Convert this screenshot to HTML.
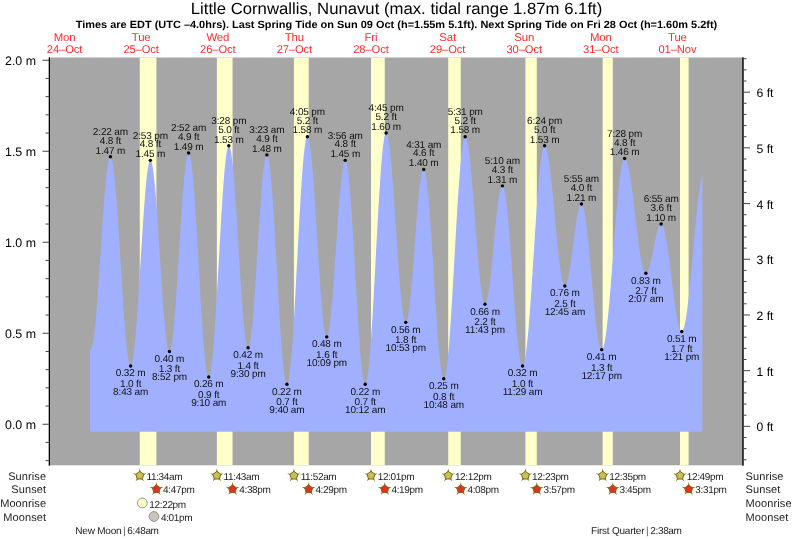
<!DOCTYPE html><html><head><meta charset="utf-8"><style>html,body{margin:0;padding:0;background:#fff;width:793px;height:539px;overflow:hidden}svg{display:block;will-change:transform}text{font-family:"Liberation Sans",sans-serif;text-rendering:geometricPrecision}</style></head><body>
<svg width="793" height="539" viewBox="0 0 793 539">
<text x="396.5" y="14.1" font-size="16.2" text-anchor="middle" textLength="411.5" lengthAdjust="spacingAndGlyphs" fill="#000">Little Cornwallis, Nunavut (max. tidal range 1.87m 6.1ft)</text>
<text x="396.5" y="28.3" font-size="10.5" font-weight="bold" text-anchor="middle" textLength="641.5" lengthAdjust="spacingAndGlyphs" fill="#000">Times are EDT (UTC –4.0hrs). Last Spring Tide on Sun 09 Oct (h=1.55m 5.1ft). Next Spring Tide on Fri 28 Oct (h=1.60m 5.2ft)</text>
<text x="64.54" y="41.3" font-size="11.4" letter-spacing="-0.15" text-anchor="middle" fill="#ff2a2a">Mon</text>
<text x="64.54" y="52.9" font-size="11.2" letter-spacing="-0.1" text-anchor="middle" fill="#ff2a2a">24–Oct</text>
<text x="141.15" y="41.3" font-size="11.4" letter-spacing="-0.15" text-anchor="middle" fill="#ff2a2a">Tue</text>
<text x="141.15" y="52.9" font-size="11.2" letter-spacing="-0.1" text-anchor="middle" fill="#ff2a2a">25–Oct</text>
<text x="217.76" y="41.3" font-size="11.4" letter-spacing="-0.15" text-anchor="middle" fill="#ff2a2a">Wed</text>
<text x="217.76" y="52.9" font-size="11.2" letter-spacing="-0.1" text-anchor="middle" fill="#ff2a2a">26–Oct</text>
<text x="294.37" y="41.3" font-size="11.4" letter-spacing="-0.15" text-anchor="middle" fill="#ff2a2a">Thu</text>
<text x="294.37" y="52.9" font-size="11.2" letter-spacing="-0.1" text-anchor="middle" fill="#ff2a2a">27–Oct</text>
<text x="370.98" y="41.3" font-size="11.4" letter-spacing="-0.15" text-anchor="middle" fill="#ff2a2a">Fri</text>
<text x="370.98" y="52.9" font-size="11.2" letter-spacing="-0.1" text-anchor="middle" fill="#ff2a2a">28–Oct</text>
<text x="447.58" y="41.3" font-size="11.4" letter-spacing="-0.15" text-anchor="middle" fill="#ff2a2a">Sat</text>
<text x="447.58" y="52.9" font-size="11.2" letter-spacing="-0.1" text-anchor="middle" fill="#ff2a2a">29–Oct</text>
<text x="524.19" y="41.3" font-size="11.4" letter-spacing="-0.15" text-anchor="middle" fill="#ff2a2a">Sun</text>
<text x="524.19" y="52.9" font-size="11.2" letter-spacing="-0.1" text-anchor="middle" fill="#ff2a2a">30–Oct</text>
<text x="600.80" y="41.3" font-size="11.4" letter-spacing="-0.15" text-anchor="middle" fill="#ff2a2a">Mon</text>
<text x="600.80" y="52.9" font-size="11.2" letter-spacing="-0.1" text-anchor="middle" fill="#ff2a2a">31–Oct</text>
<text x="677.41" y="41.3" font-size="11.4" letter-spacing="-0.15" text-anchor="middle" fill="#ff2a2a">Tue</text>
<text x="677.41" y="52.9" font-size="11.2" letter-spacing="-0.1" text-anchor="middle" fill="#ff2a2a">01–Nov</text>
<rect x="50" y="57.5" width="692.3" height="407.8" fill="#a6a6a6"/>
<rect x="139.77" y="57.5" width="16.65" height="407.8" fill="#ffffcc"/>
<rect x="216.86" y="57.5" width="15.69" height="407.8" fill="#ffffcc"/>
<rect x="293.94" y="57.5" width="14.74" height="407.8" fill="#ffffcc"/>
<rect x="371.03" y="57.5" width="13.73" height="407.8" fill="#ffffcc"/>
<rect x="448.22" y="57.5" width="12.56" height="407.8" fill="#ffffcc"/>
<rect x="525.42" y="57.5" width="11.38" height="407.8" fill="#ffffcc"/>
<rect x="602.66" y="57.5" width="10.11" height="407.8" fill="#ffffcc"/>
<rect x="680.01" y="57.5" width="8.62" height="407.8" fill="#ffffcc"/>
<polygon points="90.00,431.65 90.00,348.62 90.32,349.07 90.64,349.26 90.96,349.20 91.28,348.88 91.60,348.32 91.92,347.51 92.23,346.46 92.55,345.17 92.87,343.63 93.19,341.86 93.51,339.86 93.83,337.63 94.15,335.19 94.47,332.53 94.79,329.66 95.11,326.60 95.43,323.34 95.75,319.90 96.06,316.29 96.38,312.52 96.70,308.58 97.02,304.51 97.34,300.30 97.66,295.97 97.98,291.53 98.30,286.98 98.62,282.35 98.94,277.65 99.26,272.88 99.58,268.05 99.90,263.19 100.21,258.30 100.53,253.40 100.85,248.50 101.17,243.61 101.49,238.74 101.81,233.91 102.13,229.13 102.45,224.41 102.77,219.76 103.09,215.20 103.41,210.74 103.73,206.39 104.04,202.16 104.36,198.07 104.68,194.11 105.00,190.31 105.32,186.67 105.64,183.20 105.96,179.91 106.28,176.82 106.60,173.92 106.92,171.22 107.24,168.74 107.56,166.48 107.88,164.44 108.19,162.63 108.51,161.05 108.83,159.72 109.15,158.62 109.47,157.77 109.79,157.17 110.11,156.82 110.43,156.71 110.75,156.86 111.07,157.27 111.39,157.92 111.71,158.84 112.02,160.00 112.34,161.41 112.66,163.07 112.98,164.97 113.30,167.10 113.62,169.46 113.94,172.05 114.26,174.86 114.58,177.88 114.90,181.10 115.22,184.52 115.54,188.13 115.86,191.91 116.17,195.87 116.49,199.99 116.81,204.25 117.13,208.66 117.45,213.19 117.77,217.85 118.09,222.61 118.41,227.46 118.73,232.40 119.05,237.41 119.37,242.48 119.69,247.59 120.00,252.74 120.32,257.91 120.64,263.08 120.96,268.26 121.28,273.41 121.60,278.54 121.92,283.62 122.24,288.65 122.56,293.61 122.88,298.50 123.20,303.29 123.52,307.98 123.84,312.56 124.15,317.01 124.47,321.32 124.79,325.49 125.11,329.50 125.43,333.35 125.75,337.02 126.07,340.50 126.39,343.79 126.71,346.88 127.03,349.75 127.35,352.42 127.67,354.86 127.98,357.07 128.30,359.04 128.62,360.78 128.94,362.27 129.26,363.52 129.58,364.52 129.90,365.26 130.22,365.75 130.54,365.99 130.86,365.96 131.18,365.68 131.50,365.12 131.82,364.30 132.13,363.22 132.45,361.88 132.77,360.28 133.09,358.43 133.41,356.34 133.73,354.00 134.05,351.42 134.37,348.62 134.69,345.60 135.01,342.36 135.33,338.91 135.65,335.27 135.96,331.45 136.28,327.44 136.60,323.27 136.92,318.94 137.24,314.47 137.56,309.87 137.88,305.14 138.20,300.31 138.52,295.37 138.84,290.36 139.16,285.27 139.48,280.13 139.80,274.94 140.11,269.73 140.43,264.49 140.75,259.26 141.07,254.03 141.39,248.82 141.71,243.66 142.03,238.54 142.35,233.49 142.67,228.52 142.99,223.63 143.31,218.85 143.63,214.18 143.94,209.64 144.26,205.24 144.58,200.99 144.90,196.90 145.22,192.98 145.54,189.25 145.86,185.70 146.18,182.36 146.50,179.23 146.82,176.31 147.14,173.62 147.46,171.17 147.78,168.95 148.09,166.97 148.41,165.25 148.73,163.78 149.05,162.57 149.37,161.62 149.69,160.93 150.01,160.51 150.33,160.35 150.65,160.46 150.97,160.83 151.29,161.47 151.61,162.36 151.92,163.52 152.24,164.92 152.56,166.58 152.88,168.49 153.20,170.63 153.52,173.01 153.84,175.62 154.16,178.45 154.48,181.49 154.80,184.74 155.12,188.19 155.44,191.82 155.76,195.63 156.07,199.60 156.39,203.73 156.71,208.00 157.03,212.41 157.35,216.93 157.67,221.56 157.99,226.29 158.31,231.10 158.63,235.98 158.95,240.91 159.27,245.88 159.59,250.88 159.90,255.90 160.22,260.91 160.54,265.91 160.86,270.89 161.18,275.82 161.50,280.69 161.82,285.50 162.14,290.23 162.46,294.86 162.78,299.39 163.10,303.79 163.42,308.07 163.74,312.20 164.05,316.17 164.37,319.98 164.69,323.61 165.01,327.05 165.33,330.30 165.65,333.35 165.97,336.18 166.29,338.79 166.61,341.17 166.93,343.31 167.25,345.22 167.57,346.88 167.88,348.28 168.20,349.44 168.52,350.33 168.84,350.97 169.16,351.34 169.48,351.45 169.80,351.29 170.12,350.86 170.44,350.16 170.76,349.19 171.08,347.96 171.40,346.46 171.72,344.71 172.03,342.70 172.35,340.44 172.67,337.95 172.99,335.21 173.31,332.25 173.63,329.07 173.95,325.68 174.27,322.09 174.59,318.31 174.91,314.35 175.23,310.21 175.55,305.92 175.86,301.48 176.18,296.91 176.50,292.21 176.82,287.41 177.14,282.50 177.46,277.52 177.78,272.46 178.10,267.35 178.42,262.20 178.74,257.02 179.06,251.83 179.38,246.64 179.70,241.46 180.01,236.32 180.33,231.22 180.65,226.17 180.97,221.20 181.29,216.31 181.61,211.52 181.93,206.85 182.25,202.29 182.57,197.88 182.89,193.61 183.21,189.50 183.53,185.57 183.84,181.82 184.16,178.26 184.48,174.91 184.80,171.76 185.12,168.84 185.44,166.14 185.76,163.69 186.08,161.47 186.40,159.51 186.72,157.79 187.04,156.34 187.36,155.15 187.68,154.22 187.99,153.57 188.31,153.18 188.63,153.07 188.95,153.23 189.27,153.67 189.59,154.39 189.91,155.38 190.23,156.65 190.55,158.18 190.87,159.98 191.19,162.04 191.51,164.36 191.82,166.92 192.14,169.73 192.46,172.78 192.78,176.06 193.10,179.55 193.42,183.26 193.74,187.18 194.06,191.28 194.38,195.57 194.70,200.04 195.02,204.66 195.34,209.44 195.66,214.35 195.97,219.39 196.29,224.54 196.61,229.79 196.93,235.13 197.25,240.54 197.57,246.02 197.89,251.54 198.21,257.10 198.53,262.67 198.85,268.25 199.17,273.82 199.49,279.38 199.80,284.89 200.12,290.36 200.44,295.76 200.76,301.09 201.08,306.32 201.40,311.46 201.72,316.47 202.04,321.36 202.36,326.11 202.68,330.71 203.00,335.15 203.32,339.41 203.64,343.48 203.95,347.36 204.27,351.04 204.59,354.50 204.91,357.74 205.23,360.75 205.55,363.52 205.87,366.04 206.19,368.32 206.51,370.34 206.83,372.09 207.15,373.58 207.47,374.80 207.78,375.75 208.10,376.42 208.42,376.81 208.74,376.93 209.06,376.76 209.38,376.31 209.70,375.57 210.02,374.54 210.34,373.24 210.66,371.65 210.98,369.80 211.30,367.67 211.62,365.28 211.93,362.63 212.25,359.73 212.57,356.58 212.89,353.20 213.21,349.58 213.53,345.75 213.85,341.71 214.17,337.47 214.49,333.04 214.81,328.44 215.13,323.66 215.45,318.73 215.76,313.66 216.08,308.46 216.40,303.14 216.72,297.72 217.04,292.20 217.36,286.61 217.68,280.96 218.00,275.26 218.32,269.52 218.64,263.76 218.96,258.00 219.28,252.25 219.60,246.52 219.91,240.82 220.23,235.18 220.55,229.60 220.87,224.10 221.19,218.69 221.51,213.39 221.83,208.21 222.15,203.16 222.47,198.26 222.79,193.51 223.11,188.93 223.43,184.53 223.74,180.32 224.06,176.32 224.38,172.52 224.70,168.95 225.02,165.60 225.34,162.50 225.66,159.64 225.98,157.03 226.30,154.68 226.62,152.60 226.94,150.78 227.26,149.25 227.58,147.99 227.89,147.01 228.21,146.32 228.53,145.91 228.85,145.79 229.17,145.95 229.49,146.38 229.81,147.09 230.13,148.06 230.45,149.31 230.77,150.81 231.09,152.58 231.41,154.60 231.72,156.88 232.04,159.39 232.36,162.15 232.68,165.13 233.00,168.34 233.32,171.75 233.64,175.37 233.96,179.19 234.28,183.18 234.60,187.35 234.92,191.69 235.24,196.17 235.56,200.78 235.87,205.53 236.19,210.38 236.51,215.33 236.83,220.37 237.15,225.48 237.47,230.65 237.79,235.86 238.11,241.10 238.43,246.36 238.75,251.62 239.07,256.86 239.39,262.08 239.70,267.25 240.02,272.38 240.34,277.43 240.66,282.39 240.98,287.27 241.30,292.03 241.62,296.67 241.94,301.17 242.26,305.53 242.58,309.73 242.90,313.75 243.22,317.60 243.54,321.25 243.85,324.71 244.17,327.95 244.49,330.97 244.81,333.76 245.13,336.32 245.45,338.63 245.77,340.70 246.09,342.51 246.41,344.06 246.73,345.35 247.05,346.37 247.37,347.12 247.68,347.60 248.00,347.80 248.32,347.73 248.64,347.39 248.96,346.77 249.28,345.88 249.60,344.72 249.92,343.30 250.24,341.61 250.56,339.67 250.88,337.47 251.20,335.03 251.52,332.35 251.83,329.44 252.15,326.31 252.47,322.96 252.79,319.41 253.11,315.66 253.43,311.73 253.75,307.63 254.07,303.37 254.39,298.96 254.71,294.42 255.03,289.75 255.35,284.97 255.66,280.10 255.98,275.14 256.30,270.12 256.62,265.04 256.94,259.93 257.26,254.79 257.58,249.64 257.90,244.49 258.22,239.37 258.54,234.27 258.86,229.23 259.18,224.25 259.50,219.35 259.81,214.54 260.13,209.83 260.45,205.24 260.77,200.79 261.09,196.48 261.41,192.32 261.73,188.33 262.05,184.52 262.37,180.91 262.69,177.49 263.01,174.28 263.33,171.30 263.64,168.54 263.96,166.02 264.28,163.74 264.60,161.71 264.92,159.94 265.24,158.42 265.56,157.17 265.88,156.19 266.20,155.49 266.52,155.05 266.84,154.89 267.16,155.01 267.48,155.42 267.79,156.11 268.11,157.08 268.43,158.34 268.75,159.87 269.07,161.68 269.39,163.75 269.71,166.10 270.03,168.70 270.35,171.55 270.67,174.65 270.99,177.98 271.31,181.54 271.62,185.33 271.94,189.32 272.26,193.51 272.58,197.90 272.90,202.46 273.22,207.19 273.54,212.08 273.86,217.11 274.18,222.27 274.50,227.55 274.82,232.94 275.14,238.41 275.46,243.97 275.77,249.58 276.09,255.25 276.41,260.96 276.73,266.68 277.05,272.41 277.37,278.14 277.69,283.84 278.01,289.51 278.33,295.13 278.65,300.68 278.97,306.16 279.29,311.54 279.60,316.82 279.92,321.98 280.24,327.01 280.56,331.90 280.88,336.63 281.20,341.20 281.52,345.58 281.84,349.78 282.16,353.77 282.48,357.55 282.80,361.12 283.12,364.45 283.44,367.55 283.75,370.40 284.07,373.00 284.39,375.34 284.71,377.42 285.03,379.23 285.35,380.76 285.67,382.02 285.99,382.99 286.31,383.68 286.63,384.09 286.95,384.21 287.27,384.04 287.58,383.57 287.90,382.80 288.22,381.75 288.54,380.40 288.86,378.76 289.18,376.84 289.50,374.65 289.82,372.17 290.14,369.43 290.46,366.43 290.78,363.18 291.10,359.68 291.42,355.94 291.73,351.97 292.05,347.79 292.37,343.39 292.69,338.79 293.01,334.01 293.33,329.05 293.65,323.93 293.97,318.65 294.29,313.24 294.61,307.70 294.93,302.04 295.25,296.29 295.56,290.45 295.88,284.54 296.20,278.57 296.52,272.55 296.84,266.51 297.16,260.45 297.48,254.40 297.80,248.35 298.12,242.34 298.44,236.37 298.76,230.46 299.08,224.62 299.40,218.86 299.71,213.21 300.03,207.67 300.35,202.25 300.67,196.98 300.99,191.85 301.31,186.89 301.63,182.11 301.95,177.52 302.27,173.12 302.59,168.93 302.91,164.97 303.23,161.23 303.54,157.73 303.86,154.47 304.18,151.47 304.50,148.73 304.82,146.26 305.14,144.06 305.46,142.14 305.78,140.50 306.10,139.16 306.42,138.10 306.74,137.33 307.06,136.86 307.38,136.69 307.69,136.80 308.01,137.18 308.33,137.83 308.65,138.74 308.97,139.92 309.29,141.35 309.61,143.04 309.93,144.98 310.25,147.17 310.57,149.60 310.89,152.26 311.21,155.15 311.52,158.26 311.84,161.58 312.16,165.10 312.48,168.81 312.80,172.70 313.12,176.77 313.44,181.00 313.76,185.37 314.08,189.89 314.40,194.53 314.72,199.28 315.04,204.13 315.36,209.08 315.67,214.09 315.99,219.17 316.31,224.29 316.63,229.45 316.95,234.63 317.27,239.81 317.59,244.98 317.91,250.14 318.23,255.26 318.55,260.32 318.87,265.33 319.19,270.26 319.50,275.09 319.82,279.83 320.14,284.45 320.46,288.94 320.78,293.29 321.10,297.50 321.42,301.53 321.74,305.40 322.06,309.08 322.38,312.57 322.70,315.85 323.02,318.92 323.34,321.77 323.65,324.40 323.97,326.79 324.29,328.94 324.61,330.84 324.93,332.48 325.25,333.88 325.57,335.01 325.89,335.88 326.21,336.48 326.53,336.81 326.85,336.88 327.17,336.69 327.48,336.23 327.80,335.52 328.12,334.55 328.44,333.33 328.76,331.85 329.08,330.13 329.40,328.17 329.72,325.98 330.04,323.56 330.36,320.92 330.68,318.06 331.00,315.00 331.32,311.74 331.63,308.30 331.95,304.68 332.27,300.89 332.59,296.95 332.91,292.87 333.23,288.66 333.55,284.33 333.87,279.90 334.19,275.37 334.51,270.76 334.83,266.09 335.15,261.36 335.46,256.60 335.78,251.82 336.10,247.02 336.42,242.24 336.74,237.46 337.06,232.73 337.38,228.04 337.70,223.41 338.02,218.85 338.34,214.38 338.66,210.02 338.98,205.76 339.30,201.64 339.61,197.65 339.93,193.81 340.25,190.13 340.57,186.63 340.89,183.31 341.21,180.18 341.53,177.26 341.85,174.54 342.17,172.04 342.49,169.77 342.81,167.74 343.13,165.94 343.44,164.38 343.76,163.07 344.08,162.02 344.40,161.22 344.72,160.68 345.04,160.39 345.36,160.37 345.68,160.63 346.00,161.17 346.32,161.99 346.64,163.08 346.96,164.45 347.28,166.09 347.59,168.00 347.91,170.17 348.23,172.59 348.55,175.27 348.87,178.19 349.19,181.34 349.51,184.73 349.83,188.33 350.15,192.15 350.47,196.16 350.79,200.37 351.11,204.76 351.42,209.32 351.74,214.03 352.06,218.90 352.38,223.89 352.70,229.01 353.02,234.24 353.34,239.56 353.66,244.97 353.98,250.44 354.30,255.97 354.62,261.54 354.94,267.13 355.26,272.74 355.57,278.35 355.89,283.95 356.21,289.51 356.53,295.03 356.85,300.49 357.17,305.89 357.49,311.19 357.81,316.40 358.13,321.50 358.45,326.48 358.77,331.32 359.09,336.01 359.40,340.54 359.72,344.90 360.04,349.08 360.36,353.06 360.68,356.84 361.00,360.41 361.32,363.76 361.64,366.87 361.96,369.75 362.28,372.39 362.60,374.77 362.92,376.90 363.24,378.76 363.55,380.35 363.87,381.68 364.19,382.73 364.51,383.50 364.83,383.99 365.15,384.20 365.47,384.13 365.79,383.77 366.11,383.12 366.43,382.18 366.75,380.97 367.07,379.47 367.38,377.69 367.70,375.63 368.02,373.31 368.34,370.73 368.66,367.89 368.98,364.79 369.30,361.45 369.62,357.88 369.94,354.08 370.26,350.05 370.58,345.82 370.90,341.39 371.22,336.76 371.53,331.96 371.85,326.99 372.17,321.86 372.49,316.58 372.81,311.17 373.13,305.65 373.45,300.01 373.77,294.28 374.09,288.46 374.41,282.58 374.73,276.64 375.05,270.66 375.36,264.65 375.68,258.63 376.00,252.61 376.32,246.61 376.64,240.63 376.96,234.69 377.28,228.81 377.60,222.99 377.92,217.26 378.24,211.62 378.56,206.09 378.88,200.68 379.20,195.41 379.51,190.28 379.83,185.31 380.15,180.50 380.47,175.88 380.79,171.45 381.11,167.21 381.43,163.19 381.75,159.39 382.07,155.81 382.39,152.47 382.71,149.38 383.03,146.53 383.34,143.95 383.66,141.63 383.98,139.58 384.30,137.80 384.62,136.30 384.94,135.08 385.26,134.14 385.58,133.49 385.90,133.13 386.22,133.06 386.54,133.24 386.86,133.68 387.18,134.36 387.49,135.28 387.81,136.45 388.13,137.86 388.45,139.50 388.77,141.37 389.09,143.47 389.41,145.80 389.73,148.33 390.05,151.08 390.37,154.02 390.69,157.16 391.01,160.48 391.32,163.98 391.64,167.65 391.96,171.47 392.28,175.44 392.60,179.55 392.92,183.79 393.24,188.14 393.56,192.59 393.88,197.14 394.20,201.76 394.52,206.46 394.84,211.21 395.16,216.00 395.47,220.83 395.79,225.67 396.11,230.51 396.43,235.35 396.75,240.17 397.07,244.96 397.39,249.70 397.71,254.39 398.03,259.00 398.35,263.53 398.67,267.97 398.99,272.30 399.30,276.52 399.62,280.60 399.94,284.55 400.26,288.35 400.58,291.99 400.90,295.46 401.22,298.75 401.54,301.86 401.86,304.77 402.18,307.48 402.50,309.98 402.82,312.27 403.14,314.33 403.45,316.17 403.77,317.77 404.09,319.14 404.41,320.27 404.73,321.15 405.05,321.79 405.37,322.18 405.69,322.33 406.01,322.23 406.33,321.89 406.65,321.32 406.97,320.51 407.28,319.48 407.60,318.21 407.92,316.71 408.24,315.00 408.56,313.07 408.88,310.94 409.20,308.60 409.52,306.06 409.84,303.34 410.16,300.44 410.48,297.37 410.80,294.14 411.12,290.76 411.43,287.25 411.75,283.60 412.07,279.83 412.39,275.96 412.71,272.00 413.03,267.95 413.35,263.84 413.67,259.67 413.99,255.46 414.31,251.22 414.63,246.96 414.95,242.70 415.26,238.44 415.58,234.22 415.90,230.02 416.22,225.88 416.54,221.80 416.86,217.79 417.18,213.87 417.50,210.05 417.82,206.35 418.14,202.76 418.46,199.31 418.78,196.01 419.10,192.85 419.41,189.87 419.73,187.06 420.05,184.43 420.37,181.99 420.69,179.75 421.01,177.72 421.33,175.90 421.65,174.29 421.97,172.91 422.29,171.76 422.61,170.83 422.93,170.14 423.24,169.69 423.56,169.47 423.88,169.49 424.20,169.78 424.52,170.32 424.84,171.12 425.16,172.19 425.48,173.50 425.80,175.07 426.12,176.88 426.44,178.94 426.76,181.23 427.08,183.76 427.39,186.51 427.71,189.49 428.03,192.67 428.35,196.06 428.67,199.64 428.99,203.41 429.31,207.35 429.63,211.46 429.95,215.73 430.27,220.14 430.59,224.69 430.91,229.37 431.22,234.15 431.54,239.03 431.86,244.01 432.18,249.05 432.50,254.16 432.82,259.32 433.14,264.52 433.46,269.74 433.78,274.97 434.10,280.20 434.42,285.41 434.74,290.60 435.06,295.74 435.37,300.83 435.69,305.85 436.01,310.80 436.33,315.65 436.65,320.40 436.97,325.03 437.29,329.54 437.61,333.90 437.93,338.12 438.25,342.18 438.57,346.07 438.89,349.77 439.20,353.29 439.52,356.61 439.84,359.73 440.16,362.62 440.48,365.30 440.80,367.75 441.12,369.97 441.44,371.95 441.76,373.68 442.08,375.16 442.40,376.40 442.72,377.37 443.04,378.09 443.35,378.55 443.67,378.74 443.99,378.68 444.31,378.35 444.63,377.75 444.95,376.89 445.27,375.78 445.59,374.40 445.91,372.77 446.23,370.89 446.55,368.76 446.87,366.38 447.18,363.77 447.50,360.93 447.82,357.86 448.14,354.57 448.46,351.07 448.78,347.37 449.10,343.47 449.42,339.38 449.74,335.12 450.06,330.68 450.38,326.09 450.70,321.34 451.02,316.46 451.33,311.45 451.65,306.32 451.97,301.08 452.29,295.75 452.61,290.34 452.93,284.85 453.25,279.31 453.57,273.72 453.89,268.09 454.21,262.44 454.53,256.78 454.85,251.12 455.16,245.48 455.48,239.86 455.80,234.29 456.12,228.76 456.44,223.30 456.76,217.91 457.08,212.61 457.40,207.41 457.72,202.31 458.04,197.34 458.36,192.51 458.68,187.81 459.00,183.27 459.31,178.89 459.63,174.68 459.95,170.65 460.27,166.82 460.59,163.18 460.91,159.75 461.23,156.54 461.55,153.54 461.87,150.77 462.19,148.24 462.51,145.95 462.83,143.90 463.14,142.10 463.46,140.55 463.78,139.26 464.10,138.23 464.42,137.46 464.74,136.96 465.06,136.71 465.38,136.73 465.70,136.96 466.02,137.41 466.34,138.07 466.66,138.94 466.98,140.02 467.29,141.30 467.61,142.79 467.93,144.48 468.25,146.37 468.57,148.44 468.89,150.70 469.21,153.14 469.53,155.75 469.85,158.52 470.17,161.46 470.49,164.55 470.81,167.78 471.12,171.14 471.44,174.63 471.76,178.24 472.08,181.96 472.40,185.78 472.72,189.68 473.04,193.66 473.36,197.72 473.68,201.83 474.00,205.99 474.32,210.18 474.64,214.40 474.96,218.64 475.27,222.88 475.59,227.12 475.91,231.34 476.23,235.53 476.55,239.68 476.87,243.78 477.19,247.82 477.51,251.79 477.83,255.68 478.15,259.48 478.47,263.18 478.79,266.77 479.10,270.24 479.42,273.59 479.74,276.79 480.06,279.86 480.38,282.77 480.70,285.52 481.02,288.10 481.34,290.51 481.66,292.73 481.98,294.78 482.30,296.63 482.62,298.29 482.94,299.74 483.25,301.00 483.57,302.04 483.89,302.88 484.21,303.50 484.53,303.91 484.85,304.11 485.17,304.10 485.49,303.88 485.81,303.48 486.13,302.87 486.45,302.08 486.77,301.09 487.08,299.92 487.40,298.57 487.72,297.04 488.04,295.33 488.36,293.46 488.68,291.43 489.00,289.24 489.32,286.91 489.64,284.43 489.96,281.83 490.28,279.10 490.60,276.26 490.92,273.32 491.23,270.28 491.55,267.16 491.87,263.96 492.19,260.70 492.51,257.39 492.83,254.04 493.15,250.66 493.47,247.25 493.79,243.85 494.11,240.44 494.43,237.05 494.75,233.69 495.06,230.36 495.38,227.08 495.70,223.86 496.02,220.72 496.34,217.65 496.66,214.67 496.98,211.80 497.30,209.03 497.62,206.38 497.94,203.87 498.26,201.48 498.58,199.25 498.90,197.16 499.21,195.23 499.53,193.47 499.85,191.88 500.17,190.47 500.49,189.24 500.81,188.19 501.13,187.33 501.45,186.66 501.77,186.19 502.09,185.91 502.41,185.83 502.73,185.96 503.04,186.31 503.36,186.89 503.68,187.68 504.00,188.69 504.32,189.92 504.64,191.36 504.96,193.01 505.28,194.87 505.60,196.92 505.92,199.17 506.24,201.61 506.56,204.24 506.88,207.04 507.19,210.01 507.51,213.15 507.83,216.44 508.15,219.87 508.47,223.45 508.79,227.15 509.11,230.98 509.43,234.92 509.75,238.96 510.07,243.09 510.39,247.30 510.71,251.58 511.02,255.92 511.34,260.31 511.66,264.74 511.98,269.20 512.30,273.68 512.62,278.16 512.94,282.63 513.26,287.09 513.58,291.52 513.90,295.91 514.22,300.25 514.54,304.54 514.86,308.75 515.17,312.88 515.49,316.92 515.81,320.85 516.13,324.68 516.45,328.39 516.77,331.96 517.09,335.40 517.41,338.69 517.73,341.83 518.05,344.80 518.37,347.60 518.69,350.22 519.00,352.66 519.32,354.92 519.64,356.97 519.96,358.83 520.28,360.48 520.60,361.92 520.92,363.15 521.24,364.16 521.56,364.95 521.88,365.53 522.20,365.88 522.52,366.01 522.84,365.91 523.15,365.59 523.47,365.05 523.79,364.27 524.11,363.28 524.43,362.06 524.75,360.62 525.07,358.97 525.39,357.10 525.71,355.03 526.03,352.75 526.35,350.27 526.67,347.60 526.98,344.74 527.30,341.69 527.62,338.47 527.94,335.08 528.26,331.52 528.58,327.81 528.90,323.95 529.22,319.95 529.54,315.81 529.86,311.56 530.18,307.19 530.50,302.71 530.82,298.14 531.13,293.48 531.45,288.74 531.77,283.93 532.09,279.07 532.41,274.16 532.73,269.21 533.05,264.23 533.37,259.24 533.69,254.24 534.01,249.24 534.33,244.26 534.65,239.30 534.96,234.37 535.28,229.49 535.60,224.66 535.92,219.90 536.24,215.21 536.56,210.61 536.88,206.10 537.20,201.69 537.52,197.40 537.84,193.22 538.16,189.18 538.48,185.27 538.80,181.50 539.11,177.90 539.43,174.45 539.75,171.17 540.07,168.06 540.39,165.14 540.71,162.40 541.03,159.86 541.35,157.51 541.67,155.37 541.99,153.43 542.31,151.71 542.63,150.20 542.94,148.91 543.26,147.84 543.58,146.99 543.90,146.36 544.22,145.97 544.54,145.80 544.86,145.84 545.18,146.05 545.50,146.44 545.82,146.99 546.14,147.72 546.46,148.61 546.78,149.66 547.09,150.88 547.41,152.25 547.73,153.78 548.05,155.47 548.37,157.30 548.69,159.27 549.01,161.39 549.33,163.63 549.65,166.01 549.97,168.50 550.29,171.11 550.61,173.84 550.92,176.66 551.24,179.58 551.56,182.59 551.88,185.68 552.20,188.84 552.52,192.07 552.84,195.36 553.16,198.70 553.48,202.08 553.80,205.50 554.12,208.94 554.44,212.39 554.76,215.86 555.07,219.32 555.39,222.78 555.71,226.22 556.03,229.63 556.35,233.01 556.67,236.35 556.99,239.64 557.31,242.87 557.63,246.04 557.95,249.13 558.27,252.14 558.59,255.06 558.90,257.88 559.22,260.60 559.54,263.21 559.86,265.71 560.18,268.09 560.50,270.33 560.82,272.44 561.14,274.42 561.46,276.25 561.78,277.93 562.10,279.47 562.42,280.84 562.74,282.06 563.05,283.11 563.37,284.00 563.69,284.73 564.01,285.28 564.33,285.67 564.65,285.88 564.97,285.93 565.29,285.81 565.61,285.55 565.93,285.13 566.25,284.57 566.57,283.86 566.88,283.01 567.20,282.02 567.52,280.89 567.84,279.62 568.16,278.23 568.48,276.72 568.80,275.09 569.12,273.34 569.44,271.50 569.76,269.55 570.08,267.52 570.40,265.40 570.72,263.20 571.03,260.94 571.35,258.62 571.67,256.25 571.99,253.83 572.31,251.39 572.63,248.92 572.95,246.43 573.27,243.94 573.59,241.46 573.91,238.99 574.23,236.54 574.55,234.12 574.86,231.74 575.18,229.41 575.50,227.13 575.82,224.93 576.14,222.79 576.46,220.74 576.78,218.78 577.10,216.92 577.42,215.16 577.74,213.51 578.06,211.97 578.38,210.56 578.70,209.28 579.01,208.12 579.33,207.11 579.65,206.23 579.97,205.50 580.29,204.91 580.61,204.47 580.93,204.18 581.25,204.04 581.57,204.06 581.89,204.25 582.21,204.62 582.53,205.16 582.84,205.88 583.16,206.77 583.48,207.84 583.80,209.07 584.12,210.46 584.44,212.02 584.76,213.73 585.08,215.60 585.40,217.62 585.72,219.78 586.04,222.08 586.36,224.51 586.68,227.07 586.99,229.75 587.31,232.55 587.63,235.45 587.95,238.46 588.27,241.56 588.59,244.74 588.91,248.00 589.23,251.34 589.55,254.73 589.87,258.18 590.19,261.67 590.51,265.20 590.82,268.76 591.14,272.34 591.46,275.93 591.78,279.52 592.10,283.11 592.42,286.68 592.74,290.22 593.06,293.74 593.38,297.21 593.70,300.63 594.02,303.99 594.34,307.29 594.66,310.52 594.97,313.66 595.29,316.71 595.61,319.67 595.93,322.52 596.25,325.26 596.57,327.88 596.89,330.38 597.21,332.75 597.53,334.98 597.85,337.07 598.17,339.01 598.49,340.80 598.80,342.44 599.12,343.91 599.44,345.23 599.76,346.37 600.08,347.35 600.40,348.16 600.72,348.79 601.04,349.25 601.36,349.53 601.68,349.63 602.00,349.55 602.32,349.29 602.64,348.85 602.95,348.23 603.27,347.43 603.59,346.45 603.91,345.29 604.23,343.96 604.55,342.46 604.87,340.78 605.19,338.95 605.51,336.95 605.83,334.79 606.15,332.47 606.47,330.01 606.78,327.40 607.10,324.65 607.42,321.77 607.74,318.76 608.06,315.62 608.38,312.36 608.70,309.00 609.02,305.53 609.34,301.96 609.66,298.30 609.98,294.55 610.30,290.73 610.62,286.84 610.93,282.88 611.25,278.87 611.57,274.81 611.89,270.71 612.21,266.58 612.53,262.43 612.85,258.26 613.17,254.08 613.49,249.91 613.81,245.74 614.13,241.58 614.45,237.45 614.76,233.35 615.08,229.30 615.40,225.29 615.72,221.33 616.04,217.44 616.36,213.61 616.68,209.87 617.00,206.21 617.32,202.64 617.64,199.17 617.96,195.80 618.28,192.55 618.60,189.41 618.91,186.39 619.23,183.51 619.55,180.76 619.87,178.15 620.19,175.69 620.51,173.38 620.83,171.22 621.15,169.22 621.47,167.38 621.79,165.70 622.11,164.20 622.43,162.87 622.74,161.71 623.06,160.73 623.38,159.93 623.70,159.31 624.02,158.87 624.34,158.61 624.66,158.53 624.98,158.60 625.30,158.81 625.62,159.14 625.94,159.59 626.26,160.17 626.58,160.88 626.89,161.71 627.21,162.66 627.53,163.73 627.85,164.91 628.17,166.21 628.49,167.62 628.81,169.14 629.13,170.76 629.45,172.48 629.77,174.30 630.09,176.21 630.41,178.21 630.72,180.29 631.04,182.45 631.36,184.69 631.68,187.00 632.00,189.37 632.32,191.80 632.64,194.28 632.96,196.82 633.28,199.39 633.60,202.00 633.92,204.65 634.24,207.31 634.56,210.00 634.87,212.70 635.19,215.41 635.51,218.11 635.83,220.82 636.15,223.51 636.47,226.18 636.79,228.84 637.11,231.46 637.43,234.05 637.75,236.59 638.07,239.09 638.39,241.54 638.70,243.94 639.02,246.26 639.34,248.53 639.66,250.71 639.98,252.82 640.30,254.85 640.62,256.79 640.94,258.64 641.26,260.40 641.58,262.05 641.90,263.61 642.22,265.05 642.54,266.39 642.85,267.61 643.17,268.72 643.49,269.71 643.81,270.58 644.13,271.32 644.45,271.95 644.77,272.44 645.09,272.82 645.41,273.06 645.73,273.18 646.05,273.17 646.37,273.06 646.68,272.84 647.00,272.52 647.32,272.09 647.64,271.57 647.96,270.94 648.28,270.23 648.60,269.41 648.92,268.51 649.24,267.53 649.56,266.46 649.88,265.32 650.20,264.10 650.52,262.82 650.83,261.48 651.15,260.08 651.47,258.64 651.79,257.15 652.11,255.62 652.43,254.07 652.75,252.49 653.07,250.90 653.39,249.29 653.71,247.68 654.03,246.08 654.35,244.49 654.66,242.91 654.98,241.36 655.30,239.84 655.62,238.36 655.94,236.92 656.26,235.53 656.58,234.20 656.90,232.93 657.22,231.73 657.54,230.60 657.86,229.54 658.18,228.57 658.50,227.69 658.81,226.89 659.13,226.19 659.45,225.58 659.77,225.07 660.09,224.66 660.41,224.36 660.73,224.16 661.05,224.06 661.37,224.07 661.69,224.21 662.01,224.48 662.33,224.87 662.64,225.39 662.96,226.03 663.28,226.80 663.60,227.69 663.92,228.70 664.24,229.82 664.56,231.06 664.88,232.41 665.20,233.87 665.52,235.43 665.84,237.10 666.16,238.86 666.48,240.71 666.79,242.65 667.11,244.68 667.43,246.78 667.75,248.96 668.07,251.21 668.39,253.52 668.71,255.89 669.03,258.31 669.35,260.77 669.67,263.28 669.99,265.82 670.31,268.39 670.62,270.98 670.94,273.59 671.26,276.21 671.58,278.83 671.90,281.45 672.22,284.06 672.54,286.65 672.86,289.23 673.18,291.78 673.50,294.29 673.82,296.76 674.14,299.19 674.46,301.57 674.77,303.89 675.09,306.14 675.41,308.33 675.73,310.45 676.05,312.49 676.37,314.45 676.69,316.32 677.01,318.09 677.33,319.77 677.65,321.35 677.97,322.83 678.29,324.20 678.60,325.46 678.92,326.60 679.24,327.63 679.56,328.54 679.88,329.33 680.20,329.99 680.52,330.53 680.84,330.95 681.16,331.23 681.48,331.39 681.80,331.43 682.12,331.31 682.44,331.04 682.75,330.61 683.07,330.04 683.39,329.30 683.71,328.42 684.03,327.39 684.35,326.22 684.67,324.89 684.99,323.43 685.31,321.82 685.63,320.08 685.95,318.21 686.27,316.21 686.58,314.08 686.90,311.83 687.22,309.46 687.54,306.98 687.86,304.39 688.18,301.70 688.50,298.92 688.82,296.04 689.14,293.07 689.46,290.02 689.78,286.90 690.10,283.71 690.42,280.45 690.73,277.14 691.05,273.78 691.37,270.38 691.69,266.94 692.01,263.46 692.33,259.97 692.65,256.46 692.97,252.93 693.29,249.41 693.61,245.88 693.93,242.37 694.25,238.88 694.56,235.40 694.88,231.96 695.20,228.56 695.52,225.20 695.84,221.89 696.16,218.63 696.48,215.44 696.80,212.32 697.12,209.27 697.44,206.30 697.76,203.42 698.08,200.64 698.40,197.95 698.71,195.36 699.03,192.88 699.35,190.51 699.67,188.26 699.99,186.13 700.31,184.13 700.63,182.26 700.95,180.51 701.27,178.91 701.59,177.45 701.91,176.12 702.23,174.94 702.40,174.36 702.40,431.65" fill="#a0b0ff"/>
<rect x="48.7" y="57.3" width="1.3" height="408.40000000000003" fill="#000"/>
<rect x="742.2" y="57.3" width="1.5" height="408.40000000000003" fill="#000"/>
<line x1="45.6" x2="49" y1="460.65" y2="460.65" stroke="#444" stroke-width="1"/>
<line x1="45.6" x2="49" y1="442.45" y2="442.45" stroke="#444" stroke-width="1"/>
<line x1="42.5" x2="49" y1="424.25" y2="424.25" stroke="#444" stroke-width="1"/>
<text x="36" y="428.85" font-size="12.4" text-anchor="end" fill="#000">0.0 m</text>
<line x1="45.6" x2="49" y1="406.05" y2="406.05" stroke="#444" stroke-width="1"/>
<line x1="45.6" x2="49" y1="387.85" y2="387.85" stroke="#444" stroke-width="1"/>
<line x1="45.6" x2="49" y1="369.65" y2="369.65" stroke="#444" stroke-width="1"/>
<line x1="45.6" x2="49" y1="351.45" y2="351.45" stroke="#444" stroke-width="1"/>
<line x1="42.5" x2="49" y1="333.25" y2="333.25" stroke="#444" stroke-width="1"/>
<text x="36" y="337.85" font-size="12.4" text-anchor="end" fill="#000">0.5 m</text>
<line x1="45.6" x2="49" y1="315.05" y2="315.05" stroke="#444" stroke-width="1"/>
<line x1="45.6" x2="49" y1="296.85" y2="296.85" stroke="#444" stroke-width="1"/>
<line x1="45.6" x2="49" y1="278.65" y2="278.65" stroke="#444" stroke-width="1"/>
<line x1="45.6" x2="49" y1="260.45" y2="260.45" stroke="#444" stroke-width="1"/>
<line x1="42.5" x2="49" y1="242.25" y2="242.25" stroke="#444" stroke-width="1"/>
<text x="36" y="246.85" font-size="12.4" text-anchor="end" fill="#000">1.0 m</text>
<line x1="45.6" x2="49" y1="224.05" y2="224.05" stroke="#444" stroke-width="1"/>
<line x1="45.6" x2="49" y1="205.85" y2="205.85" stroke="#444" stroke-width="1"/>
<line x1="45.6" x2="49" y1="187.65" y2="187.65" stroke="#444" stroke-width="1"/>
<line x1="45.6" x2="49" y1="169.45" y2="169.45" stroke="#444" stroke-width="1"/>
<line x1="42.5" x2="49" y1="151.25" y2="151.25" stroke="#444" stroke-width="1"/>
<text x="36" y="155.85" font-size="12.4" text-anchor="end" fill="#000">1.5 m</text>
<line x1="45.6" x2="49" y1="133.05" y2="133.05" stroke="#444" stroke-width="1"/>
<line x1="45.6" x2="49" y1="114.85" y2="114.85" stroke="#444" stroke-width="1"/>
<line x1="45.6" x2="49" y1="96.65" y2="96.65" stroke="#444" stroke-width="1"/>
<line x1="45.6" x2="49" y1="78.45" y2="78.45" stroke="#444" stroke-width="1"/>
<line x1="42.5" x2="49" y1="60.25" y2="60.25" stroke="#444" stroke-width="1"/>
<text x="36" y="64.85" font-size="12.4" text-anchor="end" fill="#000">2.0 m</text>
<line x1="743" x2="746.5" y1="459.77" y2="459.77" stroke="#444" stroke-width="1"/>
<line x1="743" x2="746.5" y1="448.63" y2="448.63" stroke="#444" stroke-width="1"/>
<line x1="743" x2="746.5" y1="437.49" y2="437.49" stroke="#444" stroke-width="1"/>
<line x1="743" x2="750" y1="426.35" y2="426.35" stroke="#444" stroke-width="1"/>
<text x="756.5" y="431.35" font-size="12.2" fill="#000">0 ft</text>
<line x1="743" x2="746.5" y1="415.21" y2="415.21" stroke="#444" stroke-width="1"/>
<line x1="743" x2="746.5" y1="404.07" y2="404.07" stroke="#444" stroke-width="1"/>
<line x1="743" x2="746.5" y1="392.93" y2="392.93" stroke="#444" stroke-width="1"/>
<line x1="743" x2="746.5" y1="381.79" y2="381.79" stroke="#444" stroke-width="1"/>
<line x1="743" x2="750" y1="370.65" y2="370.65" stroke="#444" stroke-width="1"/>
<text x="756.5" y="375.65" font-size="12.2" fill="#000">1 ft</text>
<line x1="743" x2="746.5" y1="359.51" y2="359.51" stroke="#444" stroke-width="1"/>
<line x1="743" x2="746.5" y1="348.37" y2="348.37" stroke="#444" stroke-width="1"/>
<line x1="743" x2="746.5" y1="337.23" y2="337.23" stroke="#444" stroke-width="1"/>
<line x1="743" x2="746.5" y1="326.09" y2="326.09" stroke="#444" stroke-width="1"/>
<line x1="743" x2="750" y1="314.95" y2="314.95" stroke="#444" stroke-width="1"/>
<text x="756.5" y="319.95" font-size="12.2" fill="#000">2 ft</text>
<line x1="743" x2="746.5" y1="303.81" y2="303.81" stroke="#444" stroke-width="1"/>
<line x1="743" x2="746.5" y1="292.67" y2="292.67" stroke="#444" stroke-width="1"/>
<line x1="743" x2="746.5" y1="281.53" y2="281.53" stroke="#444" stroke-width="1"/>
<line x1="743" x2="746.5" y1="270.39" y2="270.39" stroke="#444" stroke-width="1"/>
<line x1="743" x2="750" y1="259.25" y2="259.25" stroke="#444" stroke-width="1"/>
<text x="756.5" y="264.25" font-size="12.2" fill="#000">3 ft</text>
<line x1="743" x2="746.5" y1="248.11" y2="248.11" stroke="#444" stroke-width="1"/>
<line x1="743" x2="746.5" y1="236.97" y2="236.97" stroke="#444" stroke-width="1"/>
<line x1="743" x2="746.5" y1="225.83" y2="225.83" stroke="#444" stroke-width="1"/>
<line x1="743" x2="746.5" y1="214.69" y2="214.69" stroke="#444" stroke-width="1"/>
<line x1="743" x2="750" y1="203.55" y2="203.55" stroke="#444" stroke-width="1"/>
<text x="756.5" y="208.55" font-size="12.2" fill="#000">4 ft</text>
<line x1="743" x2="746.5" y1="192.41" y2="192.41" stroke="#444" stroke-width="1"/>
<line x1="743" x2="746.5" y1="181.27" y2="181.27" stroke="#444" stroke-width="1"/>
<line x1="743" x2="746.5" y1="170.13" y2="170.13" stroke="#444" stroke-width="1"/>
<line x1="743" x2="746.5" y1="158.99" y2="158.99" stroke="#444" stroke-width="1"/>
<line x1="743" x2="750" y1="147.85" y2="147.85" stroke="#444" stroke-width="1"/>
<text x="756.5" y="152.85" font-size="12.2" fill="#000">5 ft</text>
<line x1="743" x2="746.5" y1="136.71" y2="136.71" stroke="#444" stroke-width="1"/>
<line x1="743" x2="746.5" y1="125.57" y2="125.57" stroke="#444" stroke-width="1"/>
<line x1="743" x2="746.5" y1="114.43" y2="114.43" stroke="#444" stroke-width="1"/>
<line x1="743" x2="746.5" y1="103.29" y2="103.29" stroke="#444" stroke-width="1"/>
<line x1="743" x2="750" y1="92.15" y2="92.15" stroke="#444" stroke-width="1"/>
<text x="756.5" y="97.15" font-size="12.2" fill="#000">6 ft</text>
<line x1="743" x2="746.5" y1="81.01" y2="81.01" stroke="#444" stroke-width="1"/>
<line x1="743" x2="746.5" y1="69.87" y2="69.87" stroke="#444" stroke-width="1"/>
<line x1="743" x2="746.5" y1="58.73" y2="58.73" stroke="#444" stroke-width="1"/>
<circle cx="110.40" cy="156.71" r="1.7" fill="#000"/>
<text x="110.40" y="135.11" font-size="10" text-anchor="middle" letter-spacing="-0.15" fill="#111">2:22 am</text>
<text x="110.40" y="143.71" font-size="10" text-anchor="middle" letter-spacing="-0.15" fill="#111">4.8 ft</text>
<text x="110.40" y="153.51" font-size="10" text-anchor="middle" letter-spacing="-0.15" fill="#111">1.47 m</text>
<circle cx="130.67" cy="366.01" r="1.7" fill="#000"/>
<text x="130.67" y="376.41" font-size="10" text-anchor="middle" letter-spacing="-0.15" fill="#111">0.32 m</text>
<text x="130.67" y="387.01" font-size="10" text-anchor="middle" letter-spacing="-0.15" fill="#111">1.0 ft</text>
<text x="130.67" y="394.91" font-size="10" text-anchor="middle" letter-spacing="-0.15" fill="#111">8:43 am</text>
<circle cx="150.36" cy="160.35" r="1.7" fill="#000"/>
<text x="150.36" y="138.75" font-size="10" text-anchor="middle" letter-spacing="-0.15" fill="#111">2:53 pm</text>
<text x="150.36" y="147.35" font-size="10" text-anchor="middle" letter-spacing="-0.15" fill="#111">4.8 ft</text>
<text x="150.36" y="157.15" font-size="10" text-anchor="middle" letter-spacing="-0.15" fill="#111">1.45 m</text>
<circle cx="169.45" cy="351.45" r="1.7" fill="#000"/>
<text x="169.45" y="361.85" font-size="10" text-anchor="middle" letter-spacing="-0.15" fill="#111">0.40 m</text>
<text x="169.45" y="372.45" font-size="10" text-anchor="middle" letter-spacing="-0.15" fill="#111">1.3 ft</text>
<text x="169.45" y="380.35" font-size="10" text-anchor="middle" letter-spacing="-0.15" fill="#111">8:52 pm</text>
<circle cx="188.61" cy="153.07" r="1.7" fill="#000"/>
<text x="188.61" y="131.47" font-size="10" text-anchor="middle" letter-spacing="-0.15" fill="#111">2:52 am</text>
<text x="188.61" y="140.07" font-size="10" text-anchor="middle" letter-spacing="-0.15" fill="#111">4.9 ft</text>
<text x="188.61" y="149.87" font-size="10" text-anchor="middle" letter-spacing="-0.15" fill="#111">1.49 m</text>
<circle cx="208.72" cy="376.93" r="1.7" fill="#000"/>
<text x="208.72" y="387.33" font-size="10" text-anchor="middle" letter-spacing="-0.15" fill="#111">0.26 m</text>
<text x="208.72" y="397.93" font-size="10" text-anchor="middle" letter-spacing="-0.15" fill="#111">0.9 ft</text>
<text x="208.72" y="405.83" font-size="10" text-anchor="middle" letter-spacing="-0.15" fill="#111">9:10 am</text>
<circle cx="228.83" cy="145.79" r="1.7" fill="#000"/>
<text x="228.83" y="124.19" font-size="10" text-anchor="middle" letter-spacing="-0.15" fill="#111">3:28 pm</text>
<text x="228.83" y="132.79" font-size="10" text-anchor="middle" letter-spacing="-0.15" fill="#111">5.0 ft</text>
<text x="228.83" y="142.59" font-size="10" text-anchor="middle" letter-spacing="-0.15" fill="#111">1.53 m</text>
<circle cx="248.08" cy="347.81" r="1.7" fill="#000"/>
<text x="248.08" y="358.21" font-size="10" text-anchor="middle" letter-spacing="-0.15" fill="#111">0.42 m</text>
<text x="248.08" y="368.81" font-size="10" text-anchor="middle" letter-spacing="-0.15" fill="#111">1.4 ft</text>
<text x="248.08" y="376.71" font-size="10" text-anchor="middle" letter-spacing="-0.15" fill="#111">9:30 pm</text>
<circle cx="266.86" cy="154.89" r="1.7" fill="#000"/>
<text x="266.86" y="133.29" font-size="10" text-anchor="middle" letter-spacing="-0.15" fill="#111">3:23 am</text>
<text x="266.86" y="141.89" font-size="10" text-anchor="middle" letter-spacing="-0.15" fill="#111">4.9 ft</text>
<text x="266.86" y="151.69" font-size="10" text-anchor="middle" letter-spacing="-0.15" fill="#111">1.48 m</text>
<circle cx="286.92" cy="384.21" r="1.7" fill="#000"/>
<text x="286.92" y="394.61" font-size="10" text-anchor="middle" letter-spacing="-0.15" fill="#111">0.22 m</text>
<text x="286.92" y="405.21" font-size="10" text-anchor="middle" letter-spacing="-0.15" fill="#111">0.7 ft</text>
<text x="286.92" y="413.11" font-size="10" text-anchor="middle" letter-spacing="-0.15" fill="#111">9:40 am</text>
<circle cx="307.40" cy="136.69" r="1.7" fill="#000"/>
<text x="307.40" y="115.09" font-size="10" text-anchor="middle" letter-spacing="-0.15" fill="#111">4:05 pm</text>
<text x="307.40" y="123.69" font-size="10" text-anchor="middle" letter-spacing="-0.15" fill="#111">5.2 ft</text>
<text x="307.40" y="133.49" font-size="10" text-anchor="middle" letter-spacing="-0.15" fill="#111">1.58 m</text>
<circle cx="326.77" cy="336.89" r="1.7" fill="#000"/>
<text x="326.77" y="347.29" font-size="10" text-anchor="middle" letter-spacing="-0.15" fill="#111">0.48 m</text>
<text x="326.77" y="357.89" font-size="10" text-anchor="middle" letter-spacing="-0.15" fill="#111">1.6 ft</text>
<text x="326.77" y="365.79" font-size="10" text-anchor="middle" letter-spacing="-0.15" fill="#111">10:09 pm</text>
<circle cx="345.23" cy="160.35" r="1.7" fill="#000"/>
<text x="345.23" y="138.75" font-size="10" text-anchor="middle" letter-spacing="-0.15" fill="#111">3:56 am</text>
<text x="345.23" y="147.35" font-size="10" text-anchor="middle" letter-spacing="-0.15" fill="#111">4.8 ft</text>
<text x="345.23" y="157.15" font-size="10" text-anchor="middle" letter-spacing="-0.15" fill="#111">1.45 m</text>
<circle cx="365.23" cy="384.21" r="1.7" fill="#000"/>
<text x="365.23" y="394.61" font-size="10" text-anchor="middle" letter-spacing="-0.15" fill="#111">0.22 m</text>
<text x="365.23" y="405.21" font-size="10" text-anchor="middle" letter-spacing="-0.15" fill="#111">0.7 ft</text>
<text x="365.23" y="413.11" font-size="10" text-anchor="middle" letter-spacing="-0.15" fill="#111">10:12 am</text>
<circle cx="386.14" cy="133.05" r="1.7" fill="#000"/>
<text x="386.14" y="111.45" font-size="10" text-anchor="middle" letter-spacing="-0.15" fill="#111">4:45 pm</text>
<text x="386.14" y="120.05" font-size="10" text-anchor="middle" letter-spacing="-0.15" fill="#111">5.2 ft</text>
<text x="386.14" y="129.85" font-size="10" text-anchor="middle" letter-spacing="-0.15" fill="#111">1.60 m</text>
<circle cx="405.72" cy="322.33" r="1.7" fill="#000"/>
<text x="405.72" y="332.73" font-size="10" text-anchor="middle" letter-spacing="-0.15" fill="#111">0.56 m</text>
<text x="405.72" y="343.33" font-size="10" text-anchor="middle" letter-spacing="-0.15" fill="#111">1.8 ft</text>
<text x="405.72" y="351.23" font-size="10" text-anchor="middle" letter-spacing="-0.15" fill="#111">10:53 pm</text>
<circle cx="423.70" cy="169.45" r="1.7" fill="#000"/>
<text x="423.70" y="147.85" font-size="10" text-anchor="middle" letter-spacing="-0.15" fill="#111">4:31 am</text>
<text x="423.70" y="156.45" font-size="10" text-anchor="middle" letter-spacing="-0.15" fill="#111">4.6 ft</text>
<text x="423.70" y="166.25" font-size="10" text-anchor="middle" letter-spacing="-0.15" fill="#111">1.40 m</text>
<circle cx="443.75" cy="378.75" r="1.7" fill="#000"/>
<text x="443.75" y="389.15" font-size="10" text-anchor="middle" letter-spacing="-0.15" fill="#111">0.25 m</text>
<text x="443.75" y="399.75" font-size="10" text-anchor="middle" letter-spacing="-0.15" fill="#111">0.8 ft</text>
<text x="443.75" y="407.65" font-size="10" text-anchor="middle" letter-spacing="-0.15" fill="#111">10:48 am</text>
<circle cx="465.19" cy="136.69" r="1.7" fill="#000"/>
<text x="465.19" y="115.09" font-size="10" text-anchor="middle" letter-spacing="-0.15" fill="#111">5:31 pm</text>
<text x="465.19" y="123.69" font-size="10" text-anchor="middle" letter-spacing="-0.15" fill="#111">5.2 ft</text>
<text x="465.19" y="133.49" font-size="10" text-anchor="middle" letter-spacing="-0.15" fill="#111">1.58 m</text>
<circle cx="484.98" cy="304.13" r="1.7" fill="#000"/>
<text x="484.98" y="314.53" font-size="10" text-anchor="middle" letter-spacing="-0.15" fill="#111">0.66 m</text>
<text x="484.98" y="325.13" font-size="10" text-anchor="middle" letter-spacing="-0.15" fill="#111">2.2 ft</text>
<text x="484.98" y="333.03" font-size="10" text-anchor="middle" letter-spacing="-0.15" fill="#111">11:43 pm</text>
<circle cx="502.38" cy="185.83" r="1.7" fill="#000"/>
<text x="502.38" y="164.23" font-size="10" text-anchor="middle" letter-spacing="-0.15" fill="#111">5:10 am</text>
<text x="502.38" y="172.83" font-size="10" text-anchor="middle" letter-spacing="-0.15" fill="#111">4.3 ft</text>
<text x="502.38" y="182.63" font-size="10" text-anchor="middle" letter-spacing="-0.15" fill="#111">1.31 m</text>
<circle cx="522.54" cy="366.01" r="1.7" fill="#000"/>
<text x="522.54" y="376.41" font-size="10" text-anchor="middle" letter-spacing="-0.15" fill="#111">0.32 m</text>
<text x="522.54" y="387.01" font-size="10" text-anchor="middle" letter-spacing="-0.15" fill="#111">1.0 ft</text>
<text x="522.54" y="394.91" font-size="10" text-anchor="middle" letter-spacing="-0.15" fill="#111">11:29 am</text>
<circle cx="544.62" cy="145.79" r="1.7" fill="#000"/>
<text x="544.62" y="124.19" font-size="10" text-anchor="middle" letter-spacing="-0.15" fill="#111">6:24 pm</text>
<text x="544.62" y="132.79" font-size="10" text-anchor="middle" letter-spacing="-0.15" fill="#111">5.0 ft</text>
<text x="544.62" y="142.59" font-size="10" text-anchor="middle" letter-spacing="-0.15" fill="#111">1.53 m</text>
<circle cx="564.89" cy="285.93" r="1.7" fill="#000"/>
<text x="564.89" y="296.33" font-size="10" text-anchor="middle" letter-spacing="-0.15" fill="#111">0.76 m</text>
<text x="564.89" y="306.93" font-size="10" text-anchor="middle" letter-spacing="-0.15" fill="#111">2.5 ft</text>
<text x="564.89" y="314.83" font-size="10" text-anchor="middle" letter-spacing="-0.15" fill="#111">12:45 am</text>
<circle cx="581.38" cy="204.03" r="1.7" fill="#000"/>
<text x="581.38" y="182.43" font-size="10" text-anchor="middle" letter-spacing="-0.15" fill="#111">5:55 am</text>
<text x="581.38" y="191.03" font-size="10" text-anchor="middle" letter-spacing="-0.15" fill="#111">4.0 ft</text>
<text x="581.38" y="200.83" font-size="10" text-anchor="middle" letter-spacing="-0.15" fill="#111">1.21 m</text>
<circle cx="601.70" cy="349.63" r="1.7" fill="#000"/>
<text x="601.70" y="360.03" font-size="10" text-anchor="middle" letter-spacing="-0.15" fill="#111">0.41 m</text>
<text x="601.70" y="370.63" font-size="10" text-anchor="middle" letter-spacing="-0.15" fill="#111">1.3 ft</text>
<text x="601.70" y="378.53" font-size="10" text-anchor="middle" letter-spacing="-0.15" fill="#111">12:17 pm</text>
<circle cx="624.63" cy="158.53" r="1.7" fill="#000"/>
<text x="624.63" y="136.93" font-size="10" text-anchor="middle" letter-spacing="-0.15" fill="#111">7:28 pm</text>
<text x="624.63" y="145.53" font-size="10" text-anchor="middle" letter-spacing="-0.15" fill="#111">4.8 ft</text>
<text x="624.63" y="155.33" font-size="10" text-anchor="middle" letter-spacing="-0.15" fill="#111">1.46 m</text>
<circle cx="645.86" cy="273.19" r="1.7" fill="#000"/>
<text x="645.86" y="283.59" font-size="10" text-anchor="middle" letter-spacing="-0.15" fill="#111">0.83 m</text>
<text x="645.86" y="294.19" font-size="10" text-anchor="middle" letter-spacing="-0.15" fill="#111">2.7 ft</text>
<text x="645.86" y="302.09" font-size="10" text-anchor="middle" letter-spacing="-0.15" fill="#111">2:07 am</text>
<circle cx="661.18" cy="224.05" r="1.7" fill="#000"/>
<text x="661.18" y="202.45" font-size="10" text-anchor="middle" letter-spacing="-0.15" fill="#111">6:55 am</text>
<text x="661.18" y="211.05" font-size="10" text-anchor="middle" letter-spacing="-0.15" fill="#111">3.6 ft</text>
<text x="661.18" y="220.85" font-size="10" text-anchor="middle" letter-spacing="-0.15" fill="#111">1.10 m</text>
<circle cx="681.72" cy="331.43" r="1.7" fill="#000"/>
<text x="681.72" y="341.83" font-size="10" text-anchor="middle" letter-spacing="-0.15" fill="#111">0.51 m</text>
<text x="681.72" y="352.43" font-size="10" text-anchor="middle" letter-spacing="-0.15" fill="#111">1.7 ft</text>
<text x="681.72" y="360.33" font-size="10" text-anchor="middle" letter-spacing="-0.15" fill="#111">1:21 pm</text>
<text x="46.2" y="479.8" font-size="11" letter-spacing="0.1" text-anchor="end" fill="#222">Sunrise</text>
<text x="745.6" y="479.8" font-size="11" letter-spacing="0.1" fill="#222">Sunrise</text>
<text x="46.2" y="493.4" font-size="11" letter-spacing="0.1" text-anchor="end" fill="#222">Sunset</text>
<text x="745.6" y="493.4" font-size="11" letter-spacing="0.1" fill="#222">Sunset</text>
<text x="46.2" y="507.0" font-size="11" letter-spacing="0.1" text-anchor="end" fill="#222">Moonrise</text>
<text x="745.6" y="507.0" font-size="11" letter-spacing="0.1" fill="#222">Moonrise</text>
<text x="46.2" y="520.6" font-size="11" letter-spacing="0.1" text-anchor="end" fill="#222">Moonset</text>
<text x="745.6" y="520.6" font-size="11" letter-spacing="0.1" fill="#222">Moonset</text>
<polygon points="139.77,468.40 140.77,472.60 138.77,472.60" fill="#8f6c12"/><polygon points="146.62,473.38 142.93,475.62 142.31,473.72" fill="#8f6c12"/><polygon points="144.00,481.42 140.72,478.61 142.34,477.44" fill="#8f6c12"/><polygon points="135.54,481.42 137.20,477.44 138.81,478.61" fill="#8f6c12"/><polygon points="132.92,473.38 137.22,473.72 136.61,475.62" fill="#8f6c12"/><polygon points="139.77,471.40 143.76,474.30 142.24,479.00 137.30,479.00 135.77,474.30" fill="#c2c25c" stroke="#85620f" stroke-width="1.0" stroke-linejoin="round"/>
<text x="146.47" y="479.9" font-size="10" letter-spacing="-0.35" fill="#222">11:34am</text>
<polygon points="156.42,482.00 157.42,486.20 155.42,486.20" fill="#8f6c12"/><polygon points="163.27,486.98 159.58,489.22 158.96,487.32" fill="#8f6c12"/><polygon points="160.65,495.02 157.37,492.21 158.99,491.04" fill="#8f6c12"/><polygon points="152.19,495.02 153.85,491.04 155.47,492.21" fill="#8f6c12"/><polygon points="149.57,486.98 153.88,487.32 153.26,489.22" fill="#8f6c12"/><polygon points="156.42,485.00 160.41,487.90 158.89,492.60 153.95,492.60 152.43,487.90" fill="#dd3322" stroke="#85620f" stroke-width="1.0" stroke-linejoin="round"/>
<text x="163.12" y="493.4" font-size="10" letter-spacing="-0.35" fill="#222">4:47pm</text>
<polygon points="216.86,468.40 217.86,472.60 215.86,472.60" fill="#8f6c12"/><polygon points="223.70,473.38 220.02,475.62 219.40,473.72" fill="#8f6c12"/><polygon points="221.09,481.42 217.81,478.61 219.43,477.44" fill="#8f6c12"/><polygon points="212.62,481.42 214.28,477.44 215.90,478.61" fill="#8f6c12"/><polygon points="210.01,473.38 214.31,473.72 213.69,475.62" fill="#8f6c12"/><polygon points="216.86,471.40 220.85,474.30 219.32,479.00 214.39,479.00 212.86,474.30" fill="#c2c25c" stroke="#85620f" stroke-width="1.0" stroke-linejoin="round"/>
<text x="223.56" y="479.9" font-size="10" letter-spacing="-0.35" fill="#222">11:43am</text>
<polygon points="232.55,482.00 233.55,486.20 231.55,486.20" fill="#8f6c12"/><polygon points="239.40,486.98 235.71,489.22 235.09,487.32" fill="#8f6c12"/><polygon points="236.78,495.02 233.50,492.21 235.12,491.04" fill="#8f6c12"/><polygon points="228.32,495.02 229.98,491.04 231.60,492.21" fill="#8f6c12"/><polygon points="225.70,486.98 230.01,487.32 229.39,489.22" fill="#8f6c12"/><polygon points="232.55,485.00 236.54,487.90 235.02,492.60 230.08,492.60 228.56,487.90" fill="#dd3322" stroke="#85620f" stroke-width="1.0" stroke-linejoin="round"/>
<text x="239.25" y="493.4" font-size="10" letter-spacing="-0.35" fill="#222">4:38pm</text>
<polygon points="293.94,468.40 294.94,472.60 292.94,472.60" fill="#8f6c12"/><polygon points="300.79,473.38 297.10,475.62 296.49,473.72" fill="#8f6c12"/><polygon points="298.17,481.42 294.90,478.61 296.51,477.44" fill="#8f6c12"/><polygon points="289.71,481.42 291.37,477.44 292.99,478.61" fill="#8f6c12"/><polygon points="287.09,473.38 291.40,473.72 290.78,475.62" fill="#8f6c12"/><polygon points="293.94,471.40 297.94,474.30 296.41,479.00 291.47,479.00 289.95,474.30" fill="#c2c25c" stroke="#85620f" stroke-width="1.0" stroke-linejoin="round"/>
<text x="300.64" y="479.9" font-size="10" letter-spacing="-0.35" fill="#222">11:52am</text>
<polygon points="308.68,482.00 309.68,486.20 307.68,486.20" fill="#8f6c12"/><polygon points="315.53,486.98 311.84,489.22 311.22,487.32" fill="#8f6c12"/><polygon points="312.91,495.02 309.63,492.21 311.25,491.04" fill="#8f6c12"/><polygon points="304.45,495.02 306.11,491.04 307.72,492.21" fill="#8f6c12"/><polygon points="301.83,486.98 306.13,487.32 305.52,489.22" fill="#8f6c12"/><polygon points="308.68,485.00 312.67,487.90 311.15,492.60 306.21,492.60 304.68,487.90" fill="#dd3322" stroke="#85620f" stroke-width="1.0" stroke-linejoin="round"/>
<text x="315.38" y="493.4" font-size="10" letter-spacing="-0.35" fill="#222">4:29pm</text>
<polygon points="371.03,468.40 372.03,472.60 370.03,472.60" fill="#8f6c12"/><polygon points="377.88,473.38 374.19,475.62 373.57,473.72" fill="#8f6c12"/><polygon points="375.26,481.42 371.98,478.61 373.60,477.44" fill="#8f6c12"/><polygon points="366.80,481.42 368.46,477.44 370.07,478.61" fill="#8f6c12"/><polygon points="364.18,473.38 368.49,473.72 367.87,475.62" fill="#8f6c12"/><polygon points="371.03,471.40 375.02,474.30 373.50,479.00 368.56,479.00 367.03,474.30" fill="#c2c25c" stroke="#85620f" stroke-width="1.0" stroke-linejoin="round"/>
<text x="377.73" y="479.9" font-size="10" letter-spacing="-0.35" fill="#222">12:01pm</text>
<polygon points="384.75,482.00 385.75,486.20 383.75,486.20" fill="#8f6c12"/><polygon points="391.60,486.98 387.92,489.22 387.30,487.32" fill="#8f6c12"/><polygon points="388.99,495.02 385.71,492.21 387.33,491.04" fill="#8f6c12"/><polygon points="380.52,495.02 382.18,491.04 383.80,492.21" fill="#8f6c12"/><polygon points="377.91,486.98 382.21,487.32 381.59,489.22" fill="#8f6c12"/><polygon points="384.75,485.00 388.75,487.90 387.22,492.60 382.29,492.60 380.76,487.90" fill="#dd3322" stroke="#85620f" stroke-width="1.0" stroke-linejoin="round"/>
<text x="391.45" y="493.4" font-size="10" letter-spacing="-0.35" fill="#222">4:19pm</text>
<polygon points="448.22,468.40 449.22,472.60 447.22,472.60" fill="#8f6c12"/><polygon points="455.07,473.38 451.38,475.62 450.77,473.72" fill="#8f6c12"/><polygon points="452.45,481.42 449.18,478.61 450.79,477.44" fill="#8f6c12"/><polygon points="443.99,481.42 445.65,477.44 447.27,478.61" fill="#8f6c12"/><polygon points="441.37,473.38 445.68,473.72 445.06,475.62" fill="#8f6c12"/><polygon points="448.22,471.40 452.22,474.30 450.69,479.00 445.75,479.00 444.23,474.30" fill="#c2c25c" stroke="#85620f" stroke-width="1.0" stroke-linejoin="round"/>
<text x="454.92" y="479.9" font-size="10" letter-spacing="-0.35" fill="#222">12:12pm</text>
<polygon points="460.78,482.00 461.78,486.20 459.78,486.20" fill="#8f6c12"/><polygon points="467.63,486.98 463.94,489.22 463.32,487.32" fill="#8f6c12"/><polygon points="465.01,495.02 461.73,492.21 463.35,491.04" fill="#8f6c12"/><polygon points="456.55,495.02 458.21,491.04 459.82,492.21" fill="#8f6c12"/><polygon points="453.93,486.98 458.23,487.32 457.62,489.22" fill="#8f6c12"/><polygon points="460.78,485.00 464.77,487.90 463.25,492.60 458.31,492.60 456.78,487.90" fill="#dd3322" stroke="#85620f" stroke-width="1.0" stroke-linejoin="round"/>
<text x="467.48" y="493.4" font-size="10" letter-spacing="-0.35" fill="#222">4:08pm</text>
<polygon points="525.42,468.40 526.42,472.60 524.42,472.60" fill="#8f6c12"/><polygon points="532.26,473.38 528.58,475.62 527.96,473.72" fill="#8f6c12"/><polygon points="529.65,481.42 526.37,478.61 527.99,477.44" fill="#8f6c12"/><polygon points="521.18,481.42 522.84,477.44 524.46,478.61" fill="#8f6c12"/><polygon points="518.57,473.38 522.87,473.72 522.25,475.62" fill="#8f6c12"/><polygon points="525.42,471.40 529.41,474.30 527.88,479.00 522.95,479.00 521.42,474.30" fill="#c2c25c" stroke="#85620f" stroke-width="1.0" stroke-linejoin="round"/>
<text x="532.12" y="479.9" font-size="10" letter-spacing="-0.35" fill="#222">12:23pm</text>
<polygon points="536.80,482.00 537.80,486.20 535.80,486.20" fill="#8f6c12"/><polygon points="543.65,486.98 539.96,489.22 539.34,487.32" fill="#8f6c12"/><polygon points="541.03,495.02 537.75,492.21 539.37,491.04" fill="#8f6c12"/><polygon points="532.57,495.02 534.23,491.04 535.85,492.21" fill="#8f6c12"/><polygon points="529.95,486.98 534.26,487.32 533.64,489.22" fill="#8f6c12"/><polygon points="536.80,485.00 540.79,487.90 539.27,492.60 534.33,492.60 532.81,487.90" fill="#dd3322" stroke="#85620f" stroke-width="1.0" stroke-linejoin="round"/>
<text x="543.50" y="493.4" font-size="10" letter-spacing="-0.35" fill="#222">3:57pm</text>
<polygon points="602.66,468.40 603.66,472.60 601.66,472.60" fill="#8f6c12"/><polygon points="609.51,473.38 605.82,475.62 605.21,473.72" fill="#8f6c12"/><polygon points="606.89,481.42 603.62,478.61 605.23,477.44" fill="#8f6c12"/><polygon points="598.43,481.42 600.09,477.44 601.71,478.61" fill="#8f6c12"/><polygon points="595.81,473.38 600.12,473.72 599.50,475.62" fill="#8f6c12"/><polygon points="602.66,471.40 606.66,474.30 605.13,479.00 600.19,479.00 598.67,474.30" fill="#c2c25c" stroke="#85620f" stroke-width="1.0" stroke-linejoin="round"/>
<text x="609.36" y="479.9" font-size="10" letter-spacing="-0.35" fill="#222">12:35pm</text>
<polygon points="612.77,482.00 613.77,486.20 611.77,486.20" fill="#8f6c12"/><polygon points="619.62,486.98 615.93,489.22 615.31,487.32" fill="#8f6c12"/><polygon points="617.00,495.02 613.72,492.21 615.34,491.04" fill="#8f6c12"/><polygon points="608.54,495.02 610.20,491.04 611.82,492.21" fill="#8f6c12"/><polygon points="605.92,486.98 610.23,487.32 609.61,489.22" fill="#8f6c12"/><polygon points="612.77,485.00 616.76,487.90 615.24,492.60 610.30,492.60 608.78,487.90" fill="#dd3322" stroke="#85620f" stroke-width="1.0" stroke-linejoin="round"/>
<text x="619.47" y="493.4" font-size="10" letter-spacing="-0.35" fill="#222">3:45pm</text>
<polygon points="680.01,468.40 681.01,472.60 679.01,472.60" fill="#8f6c12"/><polygon points="686.86,473.38 683.18,475.62 682.56,473.72" fill="#8f6c12"/><polygon points="684.25,481.42 680.97,478.61 682.59,477.44" fill="#8f6c12"/><polygon points="675.78,481.42 677.44,477.44 679.06,478.61" fill="#8f6c12"/><polygon points="673.17,473.38 677.47,473.72 676.85,475.62" fill="#8f6c12"/><polygon points="680.01,471.40 684.01,474.30 682.48,479.00 677.55,479.00 676.02,474.30" fill="#c2c25c" stroke="#85620f" stroke-width="1.0" stroke-linejoin="round"/>
<text x="686.71" y="479.9" font-size="10" letter-spacing="-0.35" fill="#222">12:49pm</text>
<polygon points="688.63,482.00 689.63,486.20 687.63,486.20" fill="#8f6c12"/><polygon points="695.48,486.98 691.80,489.22 691.18,487.32" fill="#8f6c12"/><polygon points="692.87,495.02 689.59,492.21 691.21,491.04" fill="#8f6c12"/><polygon points="684.40,495.02 686.06,491.04 687.68,492.21" fill="#8f6c12"/><polygon points="681.79,486.98 686.09,487.32 685.47,489.22" fill="#8f6c12"/><polygon points="688.63,485.00 692.63,487.90 691.10,492.60 686.16,492.60 684.64,487.90" fill="#dd3322" stroke="#85620f" stroke-width="1.0" stroke-linejoin="round"/>
<text x="695.33" y="493.4" font-size="10" letter-spacing="-0.35" fill="#222">3:31pm</text>
<circle cx="142.32" cy="502.9" r="4.9" fill="#ffffcc" stroke="#8a8a8a" stroke-width="0.9"/>
<text x="149.32" y="507.6" font-size="10" letter-spacing="-0.35" fill="#222">12:22pm</text>
<circle cx="153.97" cy="516.5" r="4.9" fill="#c9c5bd" stroke="#8a8a8a" stroke-width="0.9"/>
<text x="160.97" y="521.1" font-size="10" letter-spacing="-0.35" fill="#222">4:01pm</text>
<text x="121.35" y="533.6" font-size="10" letter-spacing="-0.22" text-anchor="end" fill="#222">New Moon</text>
<rect x="123.95" y="526.6" width="0.9" height="9.6" fill="#666"/>
<text x="127.35" y="533.6" font-size="10" letter-spacing="-0.35" fill="#222">6:48am</text>
<text x="644.31" y="533.6" font-size="10" letter-spacing="-0.22" text-anchor="end" fill="#222">First Quarter</text>
<rect x="646.91" y="526.6" width="0.9" height="9.6" fill="#666"/>
<text x="650.31" y="533.6" font-size="10" letter-spacing="-0.35" fill="#222">2:38am</text>
</svg></body></html>
